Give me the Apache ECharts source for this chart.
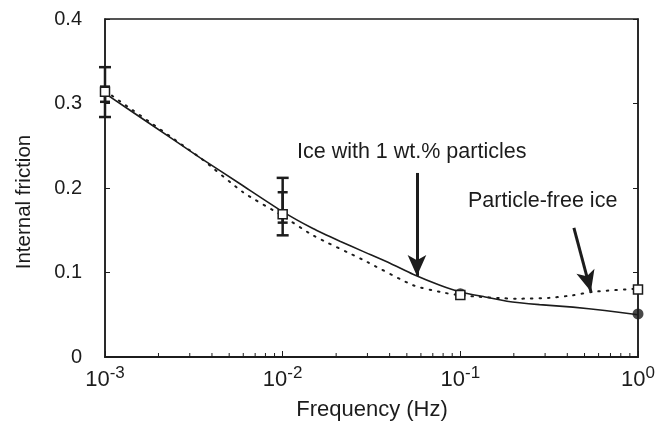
<!DOCTYPE html>
<html>
<head>
<meta charset="utf-8">
<script src="https://cdn.jsdelivr.net/npm/echarts@6/dist/echarts.min.js"></script>
<style>html,body{margin:0;padding:0;background:#fff;}#c{width:661px;height:431px;}</style>
</head>
<body>
<div id="c"></div>
<script>
// Measured points (Hz, internal friction)
const freqPoints = [0.001, 0.01, 0.1, 1];
const particleFreeValues = [0.314, 0.169, 0.0734, 0.080];
const particleValues = [null, null, 0.075, 0.051];

// Fitted curves
const particleCurveFreq = [0.001, 0.00179, 0.00342, 0.00575, 0.01, 0.0148, 0.0210, 0.0283, 0.0402, 0.0541, 0.0768, 0.1, 0.138, 0.183, 0.279, 0.43, 0.65, 1];
const particleCurveVals = [0.312, 0.276, 0.236, 0.205, 0.172, 0.152, 0.137, 0.125, 0.111, 0.098, 0.085, 0.077, 0.071, 0.066, 0.062, 0.059, 0.055, 0.050];
const freeCurveFreq = [0.001, 0.00342, 0.00598, 0.01, 0.0148, 0.0283, 0.0541, 0.0768, 0.1, 0.208, 0.317, 0.43, 0.55, 1];
const freeCurveVals = [0.315, 0.236, 0.195, 0.167, 0.144, 0.115, 0.085, 0.077, 0.073, 0.069, 0.070, 0.073, 0.077, 0.081];

// Error bars [freq, low, high]
const errOuter = [[0.001, 0.284, 0.343], [0.01, 0.144, 0.212]];
const errInner = [[0.001, 0.302, 0.320], [0.01, 0.159, 0.195]];

// Axis ticks
const yTicks = [0, 0.1, 0.2, 0.3, 0.4];
const minorTickFreqs = [0.002,0.003,0.004,0.005,0.006,0.007,0.008,0.009,
  0.02,0.03,0.04,0.05,0.06,0.07,0.08,0.09,
  0.2,0.3,0.4,0.5,0.6,0.7,0.8,0.9];

// Annotation arrows [from, to]
const arrowParticles = [[0.0570, 0.2178], [0.0570, 0.0959]];
const arrowFree = [[0.4357, 0.1527], [0.543, 0.0775]];

const FONT = '"Liberation Sans", Arial, sans-serif';
const INK = '#1c1c1c';

const chart = echarts.init(document.getElementById('c'));

function errRender(capW) {
  return function (params, api) {
    const lo = api.coord([api.value(0), api.value(1)]);
    const hi = api.coord([api.value(0), api.value(2)]);
    const st = {stroke: INK, lineWidth: 2.5};
    return {type: 'group', children: [
      {type: 'line', shape: {x1: lo[0], y1: lo[1], x2: hi[0], y2: hi[1]}, style: st},
      {type: 'line', shape: {x1: lo[0]-capW, y1: lo[1], x2: lo[0]+capW, y2: lo[1]}, style: st},
      {type: 'line', shape: {x1: hi[0]-capW, y1: hi[1], x2: hi[0]+capW, y2: hi[1]}, style: st}
    ]};
  };
}

const option = {
  animation: false,
  backgroundColor: '#fff',
  grid: {left: 105, right: 23, top: 19, bottom: 74, show: true, borderColor: INK, borderWidth: 1.5},
  xAxis: {
    type: 'log', logBase: 10, min: 0.001, max: 1,
    axisLine: {show: true, lineStyle: {color: INK, width: 2}},
    axisTick: {show: true, inside: true, length: 6, lineStyle: {color: INK, width: 1}},
    splitLine: {show: false},
    axisLabel: {
      margin: 10,
      formatter: function (v) {
        const e = Math.round(Math.log10(v));
        return '{b|10}{s|' + e + '}';
      },
      rich: {
        b: {fontFamily: FONT, fontSize: 22, color: INK, verticalAlign: 'bottom', lineHeight: 24},
        s: {fontFamily: FONT, fontSize: 17, color: INK, verticalAlign: 'bottom', lineHeight: 17, padding: [0, 0, 9, 0]}
      }
    }
  },
  yAxis: [{
    type: 'value', min: 0, max: 0.4, interval: 0.1,
    axisLine: {show: true, lineStyle: {color: INK, width: 1.5}},
    axisTick: {show: true, inside: true, length: 5, lineStyle: {color: INK}},
    splitLine: {show: false},
    axisLabel: {
      margin: 23, fontFamily: FONT, fontSize: 20, color: INK,
      formatter: function (v) { return yTicks.indexOf(v) === 0 ? '0' : v.toFixed(1); }
    }
  }, {
    type: 'value', min: 0, max: 0.4, interval: 0.1, position: 'right',
    axisLine: {show: true, lineStyle: {color: INK, width: 1.5}},
    axisTick: {show: true, inside: true, length: 5, lineStyle: {color: INK}},
    axisLabel: {show: false}, splitLine: {show: false}
  }],
  graphic: [
    {type: 'text', x: 24, y: 202, rotation: Math.PI / 2,
     style: {text: 'Internal friction', font: '20.5px ' + FONT, fill: INK, textAlign: 'center', textVerticalAlign: 'middle'}},
    {type: 'text', x: 372, y: 410,
     style: {text: 'Frequency (Hz)', font: '22px ' + FONT, fill: INK, textAlign: 'center', textVerticalAlign: 'middle'}},
    {type: 'text', x: 297, y: 152,
     style: {text: 'Ice with 1 wt.% particles', font: '21.5px ' + FONT, fill: INK, textAlign: 'left', textVerticalAlign: 'middle'}},
    {type: 'text', x: 468, y: 201,
     style: {text: 'Particle-free ice', font: '21.5px ' + FONT, fill: INK, textAlign: 'left', textVerticalAlign: 'middle'}}
  ],
  series: [
    {
      name: 'Particle-free ice', type: 'line', smooth: 0.2, showSymbol: false,
      data: freeCurveFreq.map((f, i) => [f, freeCurveVals[i]]),
      lineStyle: {color: INK, width: 2, type: [1.5, 7], cap: 'round'}, z: 2,
      markLine: {
        silent: true, symbol: ['none', 'arrow'], symbolSize: [14, 21],
        lineStyle: {color: INK, width: 3, type: 'solid'}, label: {show: false},
        data: [
          [{coord: arrowParticles[0]}, {coord: arrowParticles[1]}],
          [{coord: arrowFree[0]}, {coord: arrowFree[1]}]
        ]
      }
    },
    {
      name: 'Ice with 1 wt.% particles', type: 'line', smooth: 0.2, showSymbol: false,
      data: particleCurveFreq.map((f, i) => [f, particleCurveVals[i]]),
      lineStyle: {color: INK, width: 1.6}, z: 2
    },
    {
      type: 'custom', renderItem: errRender(6), encode: {x: 0, y: [1, 2]},
      data: errOuter, z: 3
    },
    {
      type: 'custom', renderItem: errRender(5), encode: {x: 0, y: [1, 2]},
      data: errInner, z: 3
    },
    {
      type: 'scatter', symbol: 'circle', symbolSize: 11,
      data: freqPoints.map((f, i) => [f, particleValues[i]]).filter(d => d[1] !== null),
      itemStyle: {color: INK}, z: 4
    },
    {
      type: 'scatter', symbol: 'rect', symbolSize: 9,
      data: freqPoints.map((f, i) => [f, particleFreeValues[i]]),
      itemStyle: {color: '#ffffff', opacity: 1, borderColor: INK, borderWidth: 1.5}, z: 5
    },
    {
      type: 'custom', silent: true, clip: false,
      renderItem: function (params, api) {
        const p = api.coord([api.value(0), 0]);
        return {type: 'line', shape: {x1: p[0], y1: p[1], x2: p[0], y2: p[1] - 4}, style: {stroke: INK, lineWidth: 1}};
      },
      data: minorTickFreqs.map(f => [f, 0]), z: 1
    }
  ]
};
chart.setOption(option);
</script>
</body>
</html>
